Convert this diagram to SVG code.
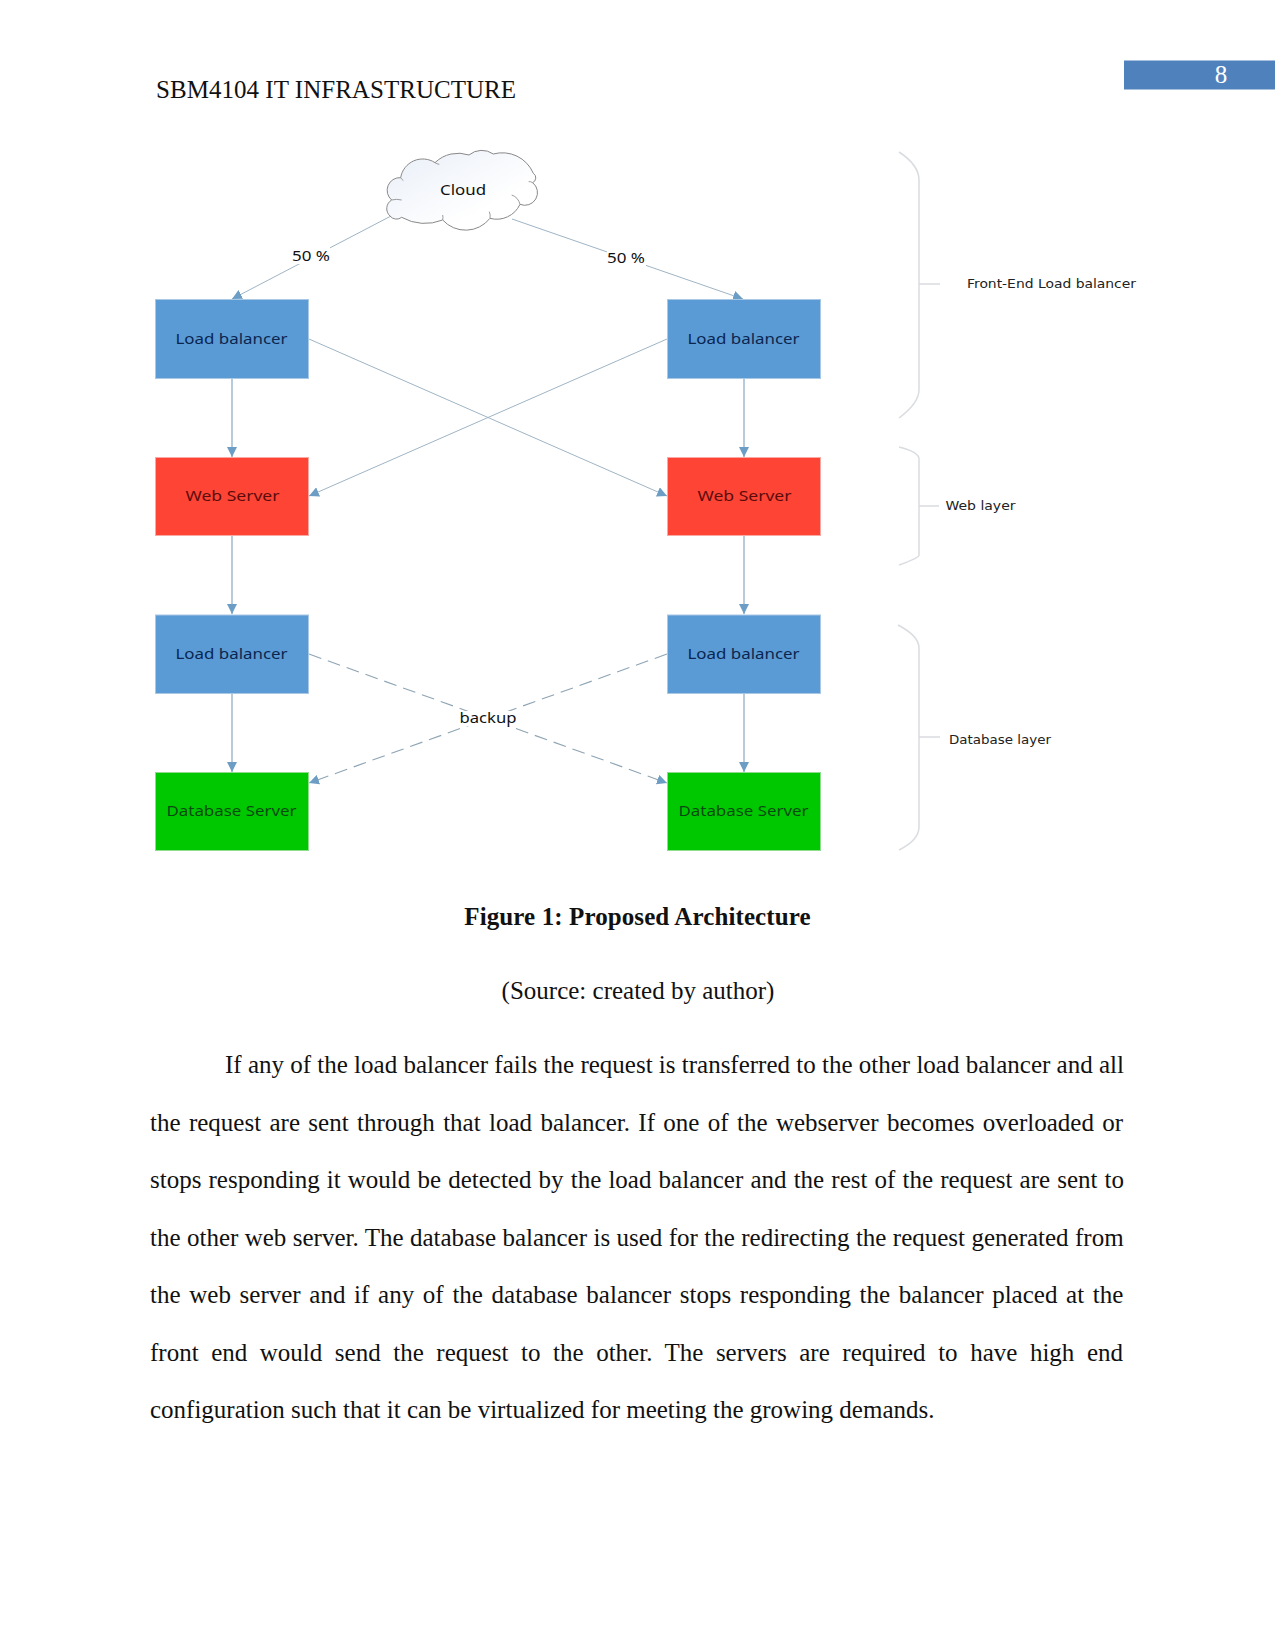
<svg xmlns="http://www.w3.org/2000/svg" width="1275" height="1650" viewBox="0 0 1275 1650">
<style>
.serif{font-family:"Liberation Serif","Times New Roman",serif;font-size:25px;fill:#111}
.d{font-family:"Noto Sans","DejaVu Sans",sans-serif;font-size:15px;text-anchor:middle}
.side{font-family:"DejaVu Sans",sans-serif;font-size:12px;fill:#222}
.c{fill:none;stroke:#8fb0c9;stroke-width:1.3;marker-end:url(#a)}
.x{fill:none;stroke:#9fb4c4;stroke-width:1;marker-end:url(#a)}
.dash{fill:none;stroke:#8ea4b4;stroke-width:1.1;stroke-dasharray:13 7;marker-end:url(#a)}
.brace{fill:none;stroke:#d9dce0;stroke-width:1.5}
.blue{fill:#5b9bd5;stroke:#a8c8e4;stroke-width:1}
.red{fill:#fe4435;stroke:#f9a9a2;stroke-width:1}
.green{fill:#00c800;stroke:#8fdc8f;stroke-width:1}
</style>
<defs>
<marker id="a" viewBox="0 0 10 10" refX="10" refY="5" markerUnits="userSpaceOnUse" markerWidth="10" markerHeight="10" orient="auto"><path d="M0 0L10 5L0 10Z" fill="#6c9dc4"/></marker>
<linearGradient id="cg" x1="0" y1="0" x2="1" y2="1"><stop offset="0" stop-color="#e9eff8"/><stop offset=".7" stop-color="#fff"/></linearGradient>
</defs>
<rect width="1275" height="1650" fill="#fff"/>
<text class="serif" x="156" y="98" letter-spacing=".03">SBM4104 IT INFRASTRUCTURE</text>
<rect x="1124" y="60.5" width="151" height="29" fill="#4f81bd"/>
<text x="1221" y="83" font-family="Liberation Serif,serif" font-size="25" fill="#fff" text-anchor="middle">8</text>
<g id="connectors">
<path class="x" d="M391 216L232 299"/>
<path class="x" d="M512 219L743 299"/>
<path class="x" d="M309 339L667 496"/>
<path class="x" d="M667 339L309 496"/>
<path class="c" d="M232 378V457"/><path class="c" d="M744 378V457"/>
<path class="c" d="M232 535V614"/><path class="c" d="M744 535V614"/>
<path class="c" d="M232 693V772"/><path class="c" d="M744 693V772"/>
<path class="dash" d="M309 654L667 783"/>
<path class="dash" d="M667 654L309 783"/>
<rect x="292" y="246" width="38" height="18" fill="#fff"/>
<rect x="607" y="249" width="39" height="18" fill="#fff"/>
<rect x="463" y="711" width="51" height="15" fill="#fff"/>
<text class="d" x="311" y="261" textLength="38" lengthAdjust="spacingAndGlyphs" fill="#111">50 %</text>
<text class="d" x="626" y="263" textLength="38" lengthAdjust="spacingAndGlyphs" fill="#111">50 %</text>
<text class="d" x="488" y="723" textLength="57" lengthAdjust="spacingAndGlyphs" fill="#111">backup</text>
</g>
<g id="cloud">
<g transform="translate(370 140) scale(.3333)">
<path fill="url(#cg)" stroke="#888" stroke-width="3" d="M60 228A30 30 0 0 1 65 180A38 38 0 0 1 92 113A67 67 0 0 1 195 68A100 100 0 0 1 297 45A60 60 0 0 1 370 42A101 101 0 0 1 490 100A16 16 0 0 1 488 128A38 38 0 0 1 450 193A77 77 0 0 1 360 235A93 93 0 0 1 218 240A142 142 0 0 1 95 232A25 25 0 0 1 60 228Z"/>
<path fill="none" stroke="#888" stroke-width="2.5" d="M65 180Q80 176 95 180M425 165Q445 172 450 193M488 128Q482 124 476 125M360 235Q362 225 358 215M218 240Q220 232 218 225M195 68Q200 72 208 73M92 113Q95 118 100 122"/>
</g>
<text class="d" x="463" y="195" textLength="46" lengthAdjust="spacingAndGlyphs" fill="#111">Cloud</text>
</g>
<g id="lb1"><rect class="blue" x="155.5" y="299.5" width="153" height="79"/><text class="d" x="231.5" y="344" textLength="112" lengthAdjust="spacingAndGlyphs" fill="#0a2650">Load balancer</text></g>
<g id="lb2"><rect class="blue" x="667.5" y="299.5" width="153" height="79"/><text class="d" x="743.5" y="344" textLength="112" lengthAdjust="spacingAndGlyphs" fill="#0a2650">Load balancer</text></g>
<g id="web1"><rect class="red" x="155.5" y="457.5" width="153" height="78"/><text class="d" x="232.5" y="501" textLength="94" lengthAdjust="spacingAndGlyphs" fill="#5a0c0c">Web Server</text></g>
<g id="web2"><rect class="red" x="667.5" y="457.5" width="153" height="78"/><text class="d" x="744.5" y="501" textLength="94" lengthAdjust="spacingAndGlyphs" fill="#5a0c0c">Web Server</text></g>
<g id="lb3"><rect class="blue" x="155.5" y="615" width="153" height="78.5"/><text class="d" x="231.5" y="659" textLength="112" lengthAdjust="spacingAndGlyphs" fill="#0a2650">Load balancer</text></g>
<g id="lb4"><rect class="blue" x="667.5" y="615" width="153" height="78.5"/><text class="d" x="743.5" y="659" textLength="112" lengthAdjust="spacingAndGlyphs" fill="#0a2650">Load balancer</text></g>
<g id="db1"><rect class="green" x="155.5" y="772.5" width="153" height="78"/><text class="d" x="231.5" y="816" textLength="130" lengthAdjust="spacingAndGlyphs" fill="#0a4a12">Database Server</text></g>
<g id="db2"><rect class="green" x="667.5" y="772.5" width="153" height="78"/><text class="d" x="743.5" y="816" textLength="130" lengthAdjust="spacingAndGlyphs" fill="#0a4a12">Database Server</text></g>
<g id="brace-front"><path class="brace" d="M899 152Q919 165 919 180V390Q919 403 899 418M919 284H940"/><text class="side" x="967" y="288" textLength="169" lengthAdjust="spacingAndGlyphs">Front-End Load balancer</text></g>
<g id="brace-web"><path class="brace" d="M899 447Q919 452 919 459V555Q919 558 899 565M919 506H939"/><text class="side" x="945.5" y="510" textLength="70" lengthAdjust="spacingAndGlyphs">Web layer</text></g>
<g id="brace-db"><path class="brace" d="M898 625Q919 636 919 648V827Q919 840 899 850M919 737H940"/><text class="side" x="949" y="744" textLength="102" lengthAdjust="spacingAndGlyphs">Database layer</text></g>
<text class="serif" x="637.5" y="925" text-anchor="middle" font-weight="bold" letter-spacing=".1">Figure 1: Proposed Architecture</text>
<text class="serif" x="638" y="999" text-anchor="middle">(Source: created by author)</text>
<text class="serif" x="225" y="1073">If any of the load balancer fails the request is transferred to the other load balancer and all</text>
<text class="serif" x="150" y="1131" word-spacing="2.12">the request are sent through that load balancer. If one of the webserver becomes overloaded or</text>
<text class="serif" x="150" y="1188" word-spacing=".89">stops responding it would be detected by the load balancer and the rest of the request are sent to</text>
<text class="serif" x="150" y="1246" word-spacing=".15">the other web server. The database balancer is used for the redirecting the request generated from</text>
<text class="serif" x="150" y="1303" word-spacing="2.44">the web server and if any of the database balancer stops responding the balancer placed at the</text>
<text class="serif" x="150" y="1361" word-spacing="6.3">front end would send the request to the other. The servers are required to have high end</text>
<text class="serif" x="150" y="1418">configuration such that it can be virtualized for meeting the growing demands.</text>
</svg>
